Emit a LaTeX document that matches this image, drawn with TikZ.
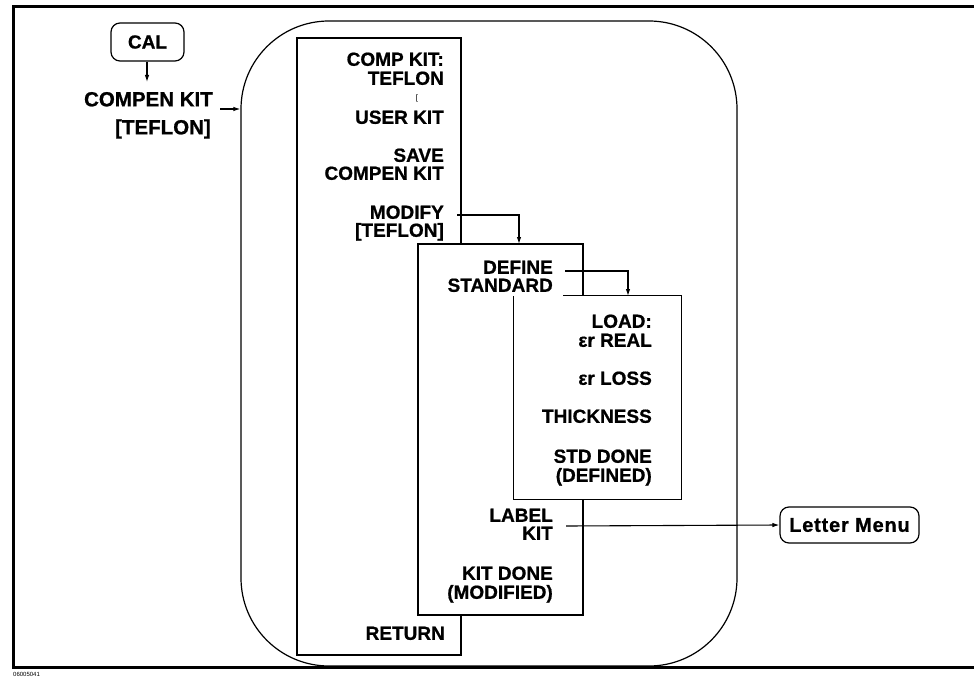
\documentclass[tikz,border=0pt]{standalone}
\usepackage{fontspec}
\setmainfont{Liberation Sans}[BoldFeatures={FakeBold=0.8}]
\usetikzlibrary{arrows.meta}
\begin{document}
\begin{tikzpicture}[x=1pt,y=-1pt,
  panel/.style={draw,line width=1.2pt,fill=white,inner sep=0pt},
  lbl/.style={anchor=east,inner sep=0pt,font=\fontsize{19}{19}\selectfont\bfseries,text height=13.6pt,text depth=0pt},
  big/.style={anchor=east,inner sep=0pt,font=\fontsize{20.5}{20.5}\selectfont\bfseries,text height=14.7pt,text depth=0pt},
  softkey/.style={draw,line width=1.2pt,rounded corners=9pt,inner sep=0pt,fill=white},
  arr/.style={line width=1.1pt,-{Latex[length=7pt,width=4.5pt]}},
]
\useasboundingbox (0,0) rectangle (974,679);
% frame
\draw[line width=3pt] (985,7) -- (13,7) -- (13,667) -- (985,667);
\node[anchor=west,inner sep=0pt,font=\fontsize{6}{6}\selectfont] (code) at (13,674) {06005041};
% outer rounded panel
\node[draw,line width=1.2pt,rounded corners=88pt,minimum width=496pt,minimum height=645pt,inner sep=0pt] (outer) at (489,343.5) {};
% menu panels
\node[panel,minimum width=164pt,minimum height=617pt] (box1) at (379,346.5) {};
\node[panel,minimum width=165pt,minimum height=371pt] (box2) at (500.5,429.5) {};
\node[fill=white,inner sep=0pt,minimum width=167pt,minimum height=203pt] (box3) at (597.5,397.5) {};
\draw[line width=1.2pt] ([xshift=-118pt]box3.north east) -- (box3.north east) -- (box3.south east) -- (box3.south west) -- (box3.north west);
% hard keys
\node[softkey,minimum width=73pt,minimum height=38pt,font=\fontsize{19}{19}\selectfont\bfseries] (cal) at (147.5,42) {CAL};
\node[softkey,minimum width=139pt,minimum height=36pt,font=\fontsize{20}{20}\selectfont\bfseries\addfontfeature{LetterSpace=4}] (letter) at (849.5,525) {Letter Menu};
% left labels
\node[big] (compen) at (213,99) {COMPEN KIT};
\node[big] (compenb) at (211,127) {[TEFLON]};
% box1 keys
\node[lbl] (k1a) at (444,59) {COMP KIT:};
\node[lbl] (k1b) at (444,78) {TEFLON};
\node[anchor=center,inner sep=0pt,font=\fontsize{8}{8}\selectfont] (brk) at (417,98) {[};
\node[lbl] (k1c) at (444,117) {USER KIT};
\node[lbl] (k2a) at (444,155) {SAVE};
\node[lbl] (k2b) at (444,173) {COMPEN KIT};
\node[lbl] (modify) at (444,212) {MODIFY};
\node[lbl] (k3b) at (444,230) {[TEFLON]};
\node[lbl] (ret) at (445,633) {RETURN};
% box2 keys
\node[lbl] (define) at (553,267) {DEFINE};
\node[lbl] (std) at (553,285) {STANDARD};
\node[lbl] (label) at (553,515) {LABEL};
\node[lbl] (kit) at (553,533) {KIT};
\node[lbl] (kd1) at (553,573) {KIT DONE};
\node[lbl] (kd2) at (553,592) {(MODIFIED)};
% box3 keys
\node[lbl] (load) at (652,321) {LOAD:};
\node[lbl] (real) at (652,340) {εr REAL};
\node[lbl] (loss) at (652,378) {εr LOSS};
\node[lbl] (thick) at (652,416) {THICKNESS};
\node[lbl] (sd1) at (652,456) {STD DONE};
\node[lbl] (sd2) at (652,475) {(DEFINED)};
% connectors
\coordinate (calend) at (147,82);
\draw[arr] (cal.south -| calend) -- (calend);
\coordinate (ca) at (220,109);
\draw[arr] (ca) -- (ca -| outer.west);
\coordinate (m2) at (519,244);
\draw[arr] ([xshift=13pt,yshift=-3pt]modify.east) -| (m2);
\coordinate (d3) at (628,296);
\draw[arr] ([xshift=12pt,yshift=-4pt]define.east) -| (d3);
\draw[arr] ([xshift=13pt,yshift=7pt]kit.east) -- (letter.west);
\end{tikzpicture}
\end{document}
